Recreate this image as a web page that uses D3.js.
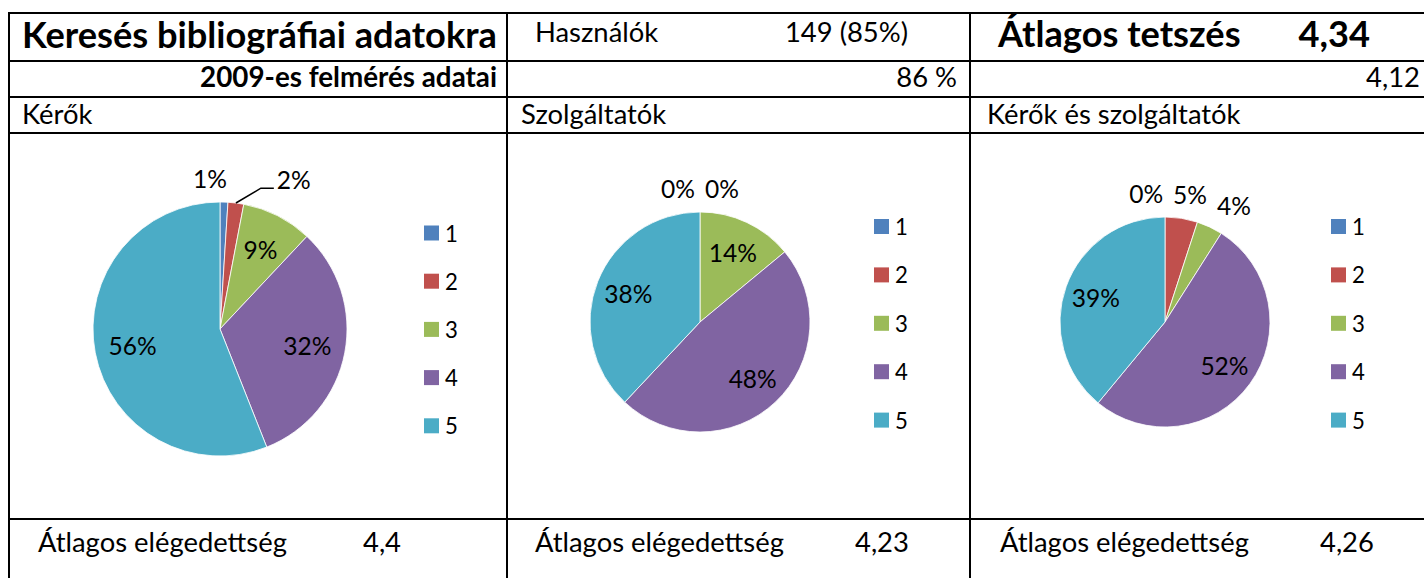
<!DOCTYPE html>
<html>
<head>
<meta charset="utf-8">
<script src="https://cdn.jsdelivr.net/npm/d3@7"></script>
<style>
  html, body { margin: 0; padding: 0; background: #fff; }
  svg { display: block; }
</style>
</head>
<body>
<svg id="chart" width="1424" height="578"></svg>
<script>
// ---------------- data ----------------
const categories = ["1", "2", "3", "4", "5"];
const kerokValues = [1, 2, 9, 32, 56];
const szolgaltatokValues = [0, 0, 14, 48, 38];
const mindketValues = [0, 5, 4, 52, 39];
const panelTitles = ["Kérők", "Szolgáltatók", "Kérők és szolgáltatók"];
const satisfactionLabel = "Átlagos elégedettség";
const satisfactionValues = ["4,4", "4,23", "4,26"];
const headerTitle = "Keresés bibliográfiai adatokra";
const headerSubtitle = "2009-es felmérés adatai";
const usersLabel = "Használók";
const usersValue = "149 (85%)";
const usersPrev = "86 %";
const likeLabel = "Átlagos tetszés";
const likeValue = "4,34";
const likePrev = "4,12";

// ---------------- style / layout ----------------
const colors = ["#4F81BD", "#C0504D", "#9BBB59", "#8064A2", "#4BACC6"];
const FONT = "Lato, 'Open Sans', 'DejaVu Sans', sans-serif";
const svg = d3.select("#chart");
svg.append("rect").attr("width", 1424).attr("height", 578).attr("fill", "#fff");

function measure(text, size, weight) {
  const t = svg.append("text").attr("font-family", FONT)
    .attr("font-size", size).attr("font-weight", weight).text(text);
  const w = t.node().getComputedTextLength();
  t.remove();
  return w;
}
const bodySize = 29 * 249 / measure(satisfactionLabel, 29, 400);
const labelSize = bodySize * 26 / 29;
const legendSize = bodySize * 23.5 / 29;
const titleSize = 32 * 475 / measure(headerTitle, 32, 700);
const subSize = 20 * 297 / measure(headerSubtitle, 20, 700);

function txt(g, s, x, y, size, weight, anchor) {
  return g.append("text").attr("x", x).attr("y", y)
    .attr("font-family", FONT).attr("font-size", size)
    .attr("font-weight", weight).attr("text-anchor", anchor || "start")
    .attr("fill", "#000").text(s);
}

// ---------------- table grid ----------------
const grid = svg.append("g").attr("stroke", "#000").attr("stroke-width", 2);
const hLines = [13, 61, 97, 133, 519];
const vLines = [9, 507, 970];
hLines.forEach(y => grid.append("line").attr("x1", 8).attr("x2", 1430).attr("y1", y).attr("y2", y));
vLines.forEach(x => grid.append("line").attr("x1", x).attr("x2", x).attr("y1", 12).attr("y2", 590));

// ---------------- header texts ----------------
const tg = svg.append("g");
txt(tg, headerTitle, 22, 48, titleSize, 700);
txt(tg, usersLabel, 535, 42, bodySize, 400);
txt(tg, usersValue, 908, 42, bodySize, 400, "end");
txt(tg, likeLabel, 998, 47, titleSize, 700);
txt(tg, likeValue, 1370, 47, titleSize, 700, "end");
txt(tg, headerSubtitle, 497, 87, subSize, 700, "end");
txt(tg, usersPrev, 957, 87, bodySize, 400, "end");
txt(tg, likePrev, 1420, 87, bodySize, 400, "end");

const panelX = [22, 521, 987];
panelTitles.forEach((t, i) => txt(tg, t, panelX[i], 124, bodySize, 400));

const satX = [38, 535, 1000];
const satValX = [363, 855, 1320];
satisfactionValues.forEach((v, i) => {
  txt(tg, satisfactionLabel, satX[i], 552, bodySize, 400);
  txt(tg, v, satValX[i], 552, bodySize, 400);
});

// ---------------- pies ----------------
const pies = [
  { values: kerokValues, cx: 220, cy: 329, r: 127, lx: 424, ly: 233, lstep: 48.2 },
  { values: szolgaltatokValues, cx: 700, cy: 322, r: 110, lx: 874, ly: 226.5, lstep: 48.4 },
  { values: mindketValues, cx: 1165, cy: 322, r: 105, lx: 1331, ly: 226.5, lstep: 48.4 }
];

const pieGen = d3.pie().sort(null).value(d => d).startAngle(0).endAngle(2 * Math.PI);

pies.forEach(p => {
  const g = svg.append("g").attr("transform", `translate(${p.cx},${p.cy})`);
  const arcs = pieGen(p.values);
  const arc = d3.arc().innerRadius(0).outerRadius(p.r);
  const labelArc = d3.arc().innerRadius(p.r * 0.7).outerRadius(p.r * 0.7);

  g.selectAll("path.slice").data(arcs).join("path")
    .attr("class", "slice")
    .attr("d", arc)
    .attr("fill", (d, i) => colors[i])
    .attr("stroke", "#fff").attr("stroke-width", 0.8);

  // labels
  const outside = [];
  arcs.forEach((d, i) => {
    const s = d.data + "%";
    const mid = (d.startAngle + d.endAngle) / 2;
    if (d.data >= 6) {
      const [x, y] = labelArc.centroid(d);
      txt(g, s, x, y, labelSize, 400, "middle").attr("dominant-baseline", "central");
    } else {
      const rr = p.r + 24;
      const x = rr * Math.sin(mid), y = -rr * Math.cos(mid);
      outside.push({ s, i, v: d.data, mid, x0: x, y0: y, x, y, w: measure(s, labelSize, 400) });
    }
  });
  // simple overlap relaxation (horizontal)
  for (let it = 0; it < 60; it++) {
    const sorted = outside.slice().sort((a, b) => a.x - b.x || a.i - b.i);
    for (let a = 0; a < sorted.length - 1; a++) {
      const A = sorted[a], B = sorted[a + 1];
      const need = (A.w + B.w) / 2 + 10;
      if (Math.abs(A.y - B.y) < 24 && B.x - A.x < need) {
        const push = (need - (B.x - A.x)) / 2;
        A.x -= push; B.x += push;
      }
    }
  }
  outside.forEach(o => {
    const moved = o.x - o.x0;
    if (o.v > 0 && o.v <= 3 && moved > 8) {
      o.x += 40;
      const ex = p.r * Math.sin(o.mid), ey = -p.r * Math.cos(o.mid);
      const left = o.x - o.w / 2;
      g.append("polyline")
        .attr("points", [[ex, ey], [left - 16, o.y + 9], [left - 3, o.y + 9]].map(q => q.join(",")).join(" "))
        .attr("fill", "none").attr("stroke", "#000").attr("stroke-width", 1.5);
    }
    txt(g, o.s, o.x, o.y, labelSize, 400, "middle").attr("dominant-baseline", "central");
  });

  // legend
  const lg = svg.append("g");
  categories.forEach((c, i) => {
    const y = p.ly + i * p.lstep;
    lg.append("rect").attr("x", p.lx).attr("y", y - 7.5).attr("width", 15).attr("height", 15)
      .attr("fill", colors[i]);
    txt(lg, c, p.lx + 21, y, legendSize, 400).attr("dominant-baseline", "central");
  });
});
</script>
</body>
</html>
